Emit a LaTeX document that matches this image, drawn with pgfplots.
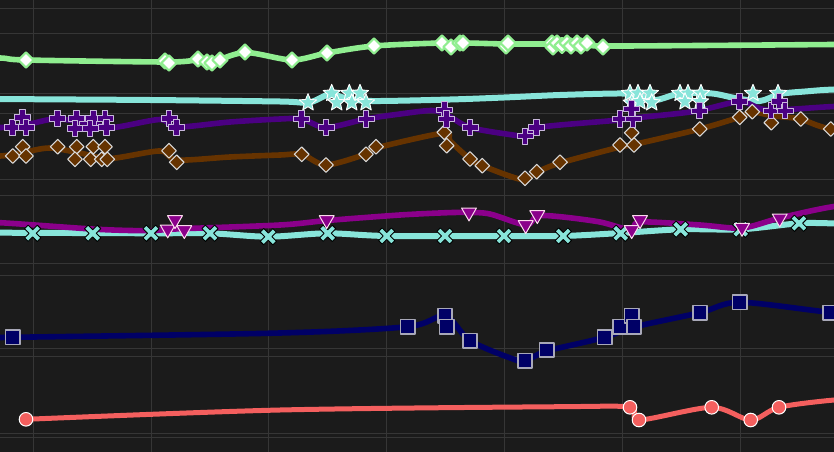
\documentclass[border=0pt]{standalone}
\usepackage{pgfplots}
\pgfplotsset{compat=1.18}
\definecolor{bg}{HTML}{1B1B1B}
\definecolor{gridc}{HTML}{363636}
\definecolor{cgreen}{HTML}{90EE90}
\definecolor{ccyan}{HTML}{88E5DA}
\definecolor{cindigo}{HTML}{4B0082}
\definecolor{cbrown}{HTML}{663300}
\definecolor{cmag}{HTML}{8B008B}
\definecolor{cnavy}{HTML}{000066}
\definecolor{csalmon}{HTML}{F45F5E}
\definecolor{plusedge}{HTML}{C8B8DC}
\definecolor{sqedge}{HTML}{A8A8B8}

\pgfdeclareplotmark{fatplus}{%
  \pgfpathmoveto{\pgfpoint{-0.36*\pgfplotmarksize}{\pgfplotmarksize}}%
  \pgfpathlineto{\pgfpoint{0.36*\pgfplotmarksize}{\pgfplotmarksize}}%
  \pgfpathlineto{\pgfpoint{0.36*\pgfplotmarksize}{0.36*\pgfplotmarksize}}%
  \pgfpathlineto{\pgfpoint{\pgfplotmarksize}{0.36*\pgfplotmarksize}}%
  \pgfpathlineto{\pgfpoint{\pgfplotmarksize}{-0.36*\pgfplotmarksize}}%
  \pgfpathlineto{\pgfpoint{0.36*\pgfplotmarksize}{-0.36*\pgfplotmarksize}}%
  \pgfpathlineto{\pgfpoint{0.36*\pgfplotmarksize}{-\pgfplotmarksize}}%
  \pgfpathlineto{\pgfpoint{-0.36*\pgfplotmarksize}{-\pgfplotmarksize}}%
  \pgfpathlineto{\pgfpoint{-0.36*\pgfplotmarksize}{-0.36*\pgfplotmarksize}}%
  \pgfpathlineto{\pgfpoint{-\pgfplotmarksize}{-0.36*\pgfplotmarksize}}%
  \pgfpathlineto{\pgfpoint{-\pgfplotmarksize}{0.36*\pgfplotmarksize}}%
  \pgfpathlineto{\pgfpoint{-0.36*\pgfplotmarksize}{0.36*\pgfplotmarksize}}%
  \pgfpathclose
  \pgfusepathqfillstroke}

\pgfdeclareplotmark{fatcross}{%
  \pgfpathmoveto{\pgfpoint{-0.28*\pgfplotmarksize}{\pgfplotmarksize}}%
  \pgfpathlineto{\pgfpoint{0.28*\pgfplotmarksize}{\pgfplotmarksize}}%
  \pgfpathlineto{\pgfpoint{0.28*\pgfplotmarksize}{0.28*\pgfplotmarksize}}%
  \pgfpathlineto{\pgfpoint{\pgfplotmarksize}{0.28*\pgfplotmarksize}}%
  \pgfpathlineto{\pgfpoint{\pgfplotmarksize}{-0.28*\pgfplotmarksize}}%
  \pgfpathlineto{\pgfpoint{0.28*\pgfplotmarksize}{-0.28*\pgfplotmarksize}}%
  \pgfpathlineto{\pgfpoint{0.28*\pgfplotmarksize}{-\pgfplotmarksize}}%
  \pgfpathlineto{\pgfpoint{-0.28*\pgfplotmarksize}{-\pgfplotmarksize}}%
  \pgfpathlineto{\pgfpoint{-0.28*\pgfplotmarksize}{-0.28*\pgfplotmarksize}}%
  \pgfpathlineto{\pgfpoint{-\pgfplotmarksize}{-0.28*\pgfplotmarksize}}%
  \pgfpathlineto{\pgfpoint{-\pgfplotmarksize}{0.28*\pgfplotmarksize}}%
  \pgfpathlineto{\pgfpoint{-0.28*\pgfplotmarksize}{0.28*\pgfplotmarksize}}%
  \pgfpathclose
  \pgfusepathqfillstroke}

\pgfdeclareplotmark{fstar}{%
  \pgfpathmoveto{\pgfpointpolar{90}{\pgfplotmarksize}}%
  \pgfpathlineto{\pgfpointpolar{126}{0.45*\pgfplotmarksize}}%
  \pgfpathlineto{\pgfpointpolar{162}{\pgfplotmarksize}}%
  \pgfpathlineto{\pgfpointpolar{198}{0.45*\pgfplotmarksize}}%
  \pgfpathlineto{\pgfpointpolar{234}{\pgfplotmarksize}}%
  \pgfpathlineto{\pgfpointpolar{270}{0.45*\pgfplotmarksize}}%
  \pgfpathlineto{\pgfpointpolar{306}{\pgfplotmarksize}}%
  \pgfpathlineto{\pgfpointpolar{342}{0.45*\pgfplotmarksize}}%
  \pgfpathlineto{\pgfpointpolar{18}{\pgfplotmarksize}}%
  \pgfpathlineto{\pgfpointpolar{54}{0.45*\pgfplotmarksize}}%
  \pgfpathclose
  \pgfusepathqfillstroke}

\begin{document}
\begin{tikzpicture}
\begin{axis}[
  scale only axis, width=834bp, height=452bp,
  xmin=0, xmax=834, ymin=0, ymax=452, y dir=reverse,
  axis background/.style={fill=bg},
  axis line style={draw=none},
  xtick={33,151,268,386,504,622,740},
  ytick={9,34,94,114,179,195,263,275,348,356,433,437},
  xticklabels={}, yticklabels={},
  major tick length=0pt,
  grid=major, grid style={gridc, line width=1bp},
  every axis plot/.append style={line join=round, line cap=round},
  lin/.style={no marks, smooth, tension=0.5, line width=5.6bp},
]
% green line + diamonds
\addplot[lin, cgreen] coordinates {(-60,57) (0,58) (26,60) (167,62) (198,60) (212,62) (245,52.5) (292,60) (327,53) (374,46) (442,43) (455,44.5) (463,43) (507,44) (552,44) (580,44.5) (603,46) (700,45.5) (834,44.5) (900,44)};
\addplot[only marks, mark=square*, mark size=5.4bp, mark options={rotate=45, fill=white, draw=cgreen, line width=2bp}] coordinates {(26,60) (165,61) (169,63) (198,59) (207,62) (212,63) (220,60) (245,52) (292,60) (327,53) (374,46) (442,43) (451,47) (460,43) (463,43) (506,46) (508,43) (552,43) (553,47) (557,43) (562,45.5) (567,43) (571,46) (577,43) (581,46) (587,43) (603,47)};
% cyan line + stars
\addplot[lin, ccyan, line width=6bp] coordinates {(-60,98) (0,99) (150,100) (280,101.5) (309,102.5) (330,94) (345,98) (372,101) (450,99.5) (504,97.5) (560,95) (622,93.5) (640,96) (656,100) (680,93.5) (712,93.5) (735,98) (760,101) (780,94) (805,91.5) (834,89.5) (900,88)};
\addplot[only marks, mark=fstar, mark size=9bp, mark options={fill=ccyan, draw=white, line width=0.9bp}] coordinates {(308,102.7) (331.7,93.3) (336.7,102.7) (349.3,93.3) (351.7,102.7) (360,93.3) (366,102.7) (630,93.3) (638,93.3) (650,93.3) (631.7,103) (640,101.7) (651.7,102.7) (680,93.3) (688,93.3) (701,93.3) (685,101.7) (700,101.7) (753,93.3) (778,93.3)};
% brown line + diamonds
\addplot[lin, cbrown] coordinates {(-60,156) (0,156) (25,152) (50,148) (80,153) (110,158.5) (160,151) (177,160) (230,157) (280,155) (302,154.5) (326,165) (366,154) (376,148) (444,133) (450,141) (470,159) (483,166) (522,179.5) (537,172) (560,163) (620,147) (634,144.5) (700,129) (740,117) (752,112) (774,116) (800,119) (831,129) (900,135)};
\addplot[only marks, mark=square*, mark size=5.2bp, mark options={rotate=45, fill=cbrown, draw=white!85!black, line width=1.1bp}] coordinates {(12.7,156) (22.7,146.7) (26,156) (57.7,146.7) (76.7,146.7) (75,159.3) (93.3,146.7) (90.7,159.3) (105,146.7) (101.7,159.3) (107.3,159.3) (169,150.7) (176.7,162.3) (301.7,154.3) (326,165) (366,154.3) (376,146.7) (444.3,132.3) (446.7,145.7) (470,159) (482.3,165.7) (525,178.3) (536.7,171.7) (560,162.3) (620,145) (634,145) (631.7,132.7) (699.7,129) (739.7,117.3) (752.3,111.7) (771.3,122.7) (800.7,119) (830.7,129)};
% indigo line + plus
\addplot[lin, cindigo] coordinates {(-60,126) (0,127.5) (25,125) (55,119) (90,123) (113,127.5) (160,119.5) (177,127) (230,122) (280,119) (302,119) (326,127.5) (366,119) (400,114) (432,110.5) (447,115) (470,127.5) (513,135) (525,135.5) (537,128) (560,125) (620,120) (634,118) (694,111.5) (740,101.7) (768,110) (834,106.5) (900,105)};
\addplot[only marks, mark=fatplus, mark size=8bp, mark options={fill=cindigo, draw=plusedge, line width=1bp}] coordinates {(12.7,127.7) (22.7,117.7) (26,127.7) (57.7,118.3) (76.7,118.3) (75,128.3) (93.3,118.3) (90,128.3) (105,118.3) (106.7,127.7) (169,118.3) (176.7,127.7) (301.7,119) (326,127.7) (366,119) (444.3,110) (446.7,119) (470,127.7) (525,136) (536.7,127.7) (620,119) (633,119) (631.7,109) (699.7,111) (739.7,101.7) (771,111) (779,101.7) (785,111)};
% cyan lower line + x
\addplot[lin, ccyan, line width=6bp] coordinates {(-60,232.5) (0,232.7) (150,233.3) (210,233.3) (268,236.7) (327,233.3) (387,236) (504,236) (563,236) (621,233) (681,229.3) (741,229.3) (799,223.3) (834,223.3) (900,223)};
\addplot[only marks, mark=fatcross, mark size=9bp, mark options={rotate=45, fill=ccyan, draw=black, line width=0.9bp}] coordinates {(32.7,233.3) (92.7,233.3) (151,233.3) (210,233.3) (268.3,236.7) (327.7,233.3) (386.7,236) (445,236) (504,236) (563.3,236) (620.7,233.3) (680.7,229.3) (740.7,229.3) (799,223.3)};
% magenta line + triangles
\addplot[lin, cmag] coordinates {(-60,221) (0,222.7) (97,229.3) (150,230.7) (175,229) (280,225) (327,220.5) (400,215) (447,212.7) (469,212.5) (490,214) (526,225) (537,216) (560,216.7) (600,222) (631,230) (640,222) (700,225) (742,228) (780,218) (834,206.5) (900,200)};
\addplot[only marks, mark=triangle*, mark size=8.6bp, mark options={rotate=180, fill=cmag, draw=white!85!magenta, line width=1bp}] coordinates {(167.7,229.3) (175,220) (184.3,230) (326.7,220) (469,212.3) (525.7,225) (537.3,215) (631.7,230) (640,220) (742,227.7) (779.7,218.3)};
% navy line + squares
\addplot[lin, cnavy] coordinates {(-60,337.5) (0,337.3) (12.7,337.3) (280,333) (407.7,326.7) (445,316) (470,340.7) (513,359) (525,360.7) (546.7,350) (554,349) (604.7,337.3) (634,327) (700,312.7) (740,302.3) (834,312.7) (900,316)};
\addplot[only marks, mark=square*, mark size=7.2bp, mark options={fill=cnavy, draw=sqedge, line width=1.5bp}] coordinates {(12.7,337.3) (407.7,326.7) (445,315.7) (446.7,326.7) (470,340.7) (525,360.7) (546.7,350) (604.7,337.3) (620,326.7) (631.7,315.7) (634,326.7) (700,312.7) (739.7,302.3) (830,312.7)};
% salmon line + circles
\addplot[lin, csalmon, line width=5bp] coordinates {(26,419.3) (280,410) (560,406.7) (630,407.3) (639,420) (711.7,407.3) (750.7,420) (779,407.3) (834,400) (900,396)};
\addplot[only marks, mark=*, mark size=6.8bp, mark options={fill=csalmon, draw=white, line width=1bp}] coordinates {(26,419.3) (630,407.3) (639,420) (711.7,407.3) (750.7,420) (779,407.3)};
\end{axis}
\pgfresetboundingbox
\path (current axis.south west) rectangle (current axis.north east);
\end{tikzpicture}
\end{document}
